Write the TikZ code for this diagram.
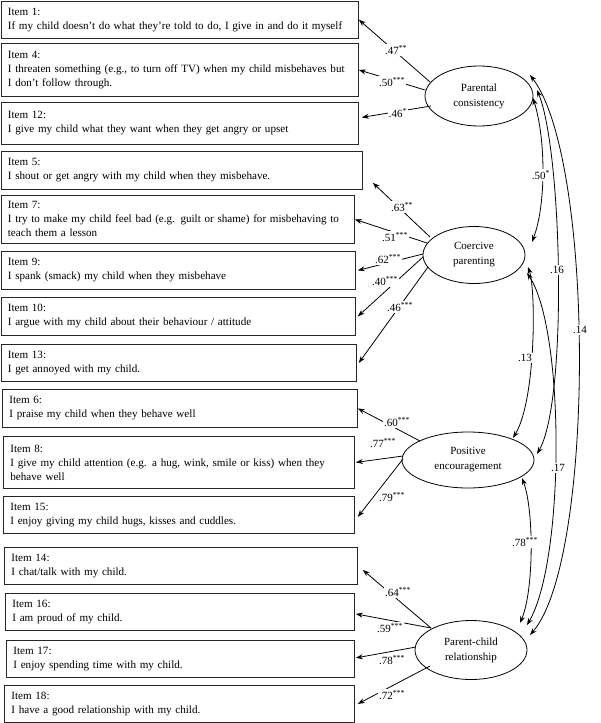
\documentclass[tikz,border=0pt]{standalone}
\usepackage{fontspec}
\setmainfont{Liberation Serif}
\usetikzlibrary{shapes.geometric,arrows.meta,calc}
\begin{document}
\begin{tikzpicture}[x=1pt,y=-1pt,
  box/.style={draw=black!85, line width=0.8pt, rectangle, anchor=north west, align=left,
    inner xsep=7pt, inner ysep=0pt, font=\fontsize{11.1}{14}\selectfont},
  lat/.style={draw, ellipse, line width=0.8pt, inner sep=0pt, align=center,
    font=\fontsize{11}{15}\selectfont},
  load/.style={line width=0.8pt, -{Stealth[length=7pt,width=5pt]}},
  cov/.style={line width=0.8pt, {Stealth[length=7pt,width=5pt]}-{Stealth[length=7pt,width=5pt]}},
  lab/.style={fill=white, inner sep=1pt, font=\fontsize{11}{12}\selectfont}]
\useasboundingbox (0,0) rectangle (600,723);

% item boxes
\node[box, minimum width=357.5pt, minimum height=37.5pt, text width=343.5pt] (i1) at (0.5,0.5)
  {Item 1:\\If my child doesn’t do what they’re told to do, I give in and do it myself};
\node[box, minimum width=357.5pt, minimum height=53pt, text width=343.5pt] (i4) at (0.5,43)
  {Item 4:\\I threaten something (e.g., to turn off TV) when my child misbehaves but\\I don’t follow through.};
\node[box, minimum width=357.5pt, minimum height=42pt, text width=343.5pt] (i12) at (0.5,102)
  {Item 12:\\I give my child what they want when they get angry or upset};
\node[box, minimum width=361.5pt, minimum height=38pt, text width=347.5pt] (i5) at (0.5,151)
  {Item 5:\\I shout or get angry with my child when they misbehave.};
\node[box, minimum width=353.5pt, minimum height=48pt, text width=339.5pt] (i7) at (0.5,195)
  {Item 7:\\I try to make my child feel bad (e.g. guilt or shame) for misbehaving to\\teach them a lesson};
\node[box, minimum width=354.5pt, minimum height=38pt, text width=340.5pt] (i9) at (0.5,251)
  {Item 9:\\I spank (smack) my child when they misbehave};
\node[box, minimum width=354.5pt, minimum height=38pt, text width=340.5pt] (i10) at (0.5,297)
  {Item 10:\\I argue with my child about their behaviour / attitude};
\node[box, minimum width=355.5pt, minimum height=37pt, text width=341.5pt] (i13) at (0.5,344)
  {Item 13:\\I get annoyed with my child.};
\node[box, minimum width=355pt, minimum height=38pt, text width=341pt] (i6) at (2,389)
  {Item 6:\\I praise my child when they behave well};
\node[box, minimum width=351pt, minimum height=52pt, text width=337pt] (i8) at (3,436)
  {Item 8:\\I give my child attention (e.g. a hug, wink, smile or kiss) when they\\behave well};
\node[box, minimum width=351pt, minimum height=37pt, text width=337pt] (i15) at (3,496)
  {Item 15:\\I enjoy giving my child hugs, kisses and cuddles.};
\node[box, minimum width=353pt, minimum height=37pt, text width=339pt] (i14) at (4,547)
  {Item 14:\\I chat/talk with my child.};
\node[box, minimum width=349pt, minimum height=37pt, text width=335pt] (i16) at (5,593)
  {Item 16:\\I am proud of my child.};
\node[box, minimum width=348pt, minimum height=37pt, text width=334pt] (i17) at (6,640)
  {Item 17:\\I enjoy spending time with my child.};
\node[box, minimum width=350pt, minimum height=37pt, text width=336pt] (i18) at (4,685)
  {Item 18:\\I have a good relationship with my child.};

% latent variables
\node[lat, minimum width=108pt, minimum height=60pt] (pc) at (479,96) {Parental\\consistency};
\node[lat, minimum width=102pt, minimum height=57pt] (cp) at (474,255) {Coercive\\parenting};
\node[lat, minimum width=132pt, minimum height=56pt] (ce) at (468,460) {Positive\\encouragement};
\node[lat, minimum width=112pt, minimum height=59pt] (pr) at (471,650) {Parent-child\\relationship};

% loadings
\draw[load] ($(pc.center)+(-49,-14)$) -- (i1.east);
\draw[load] ($(pc.center)+(-54,-6)$) -- (i4.east);
\draw[load] ($(pc.center)+(-48,10)$) -- ($(i12.east)+(3,-6)$);
\draw[load] ($(cp.center)+(-44,-18)$) -- ($(i5.south east)+(10,-7)$);
\draw[load] ($(cp.center)+(-47,-12)$) -- (i7.east);
\draw[load] ($(cp.center)+(-51,-1)$) -- ($(i9.east)+(2,0)$);
\draw[load] ($(cp.center)+(-51,2)$) -- ($(i10.east)+(2,0)$);
\draw[load] ($(cp.center)+(-46,12)$) -- ($(i13.east)+(2,0)$);
\draw[load] ($(ce.center)+(-48,-19)$) -- (i6.east);
\draw[load] ($(ce.center)+(-65,-4)$) -- ($(i8.east)+(1,0)$);
\draw[load] ($(ce.center)+(-65,-1)$) -- ($(i15.east)+(3,2)$);
\draw[load] ($(pr.center)+(-40,-22)$) -- ($(i14.east)+(5,4)$);
\draw[load] ($(pr.center)+(-40,-22)$) -- ($(i16.east)+(1,2)$);
\draw[load] ($(pr.center)+(-55,-3)$) -- ($(i17.east)+(1,-1)$);
\draw[load] ($(pr.center)+(-41,16)$) -- ($(i18.east)+(3,0)$);

% covariances
\draw[cov] ($(pc.center)+(54,2)$) .. controls (546,140) and (546,205) .. ($(cp.center)+(58,-13)$);
\draw[cov] ($(pc.center)+(58,-6)$) .. controls (562,150) and (568,400) .. ($(ce.center)+(69,-6)$);
\draw[cov] ($(pc.center)+(51,-21)$) .. controls (595,160) and (595,560) .. ($(pr.center)+(59,-15)$);
\draw[cov] ($(cp.center)+(54,12)$) .. controls (536,290) and (536,400) .. ($(ce.center)+(45,-22)$);
\draw[cov] ($(cp.center)+(53,18)$) .. controls (565,330) and (565,560) .. ($(pr.center)+(56,-25)$);
\draw[cov] ($(ce.center)+(54,18)$) .. controls (534,510) and (534,590) .. ($(pr.center)+(49,-27)$);

% loading labels
\node[lab] (l1) at (396,50) {.47\textsuperscript{**}};
\node[lab] (l4) at (392,82) {.50\textsuperscript{***}};
\node[lab] (l12) at (398,113) {.46\textsuperscript{*}};
\node[lab] (l5) at (402,207) {.63\textsuperscript{**}};
\node[lab] (l7) at (395,237) {.51\textsuperscript{***}};
\node[lab] (l9) at (388,259) {.62\textsuperscript{***}};
\node[lab] (l10) at (385,281) {.40\textsuperscript{***}};
\node[lab] (l13) at (400,307) {.46\textsuperscript{***}};
\node[lab] (l6) at (397,422) {.60\textsuperscript{***}};
\node[lab] (l8) at (383,443) {.77\textsuperscript{***}};
\node[lab] (l15) at (392,497) {.79\textsuperscript{***}};
\node[lab] (l14) at (398,592) {.64\textsuperscript{***}};
\node[lab] (l16) at (390,628) {.59\textsuperscript{***}};
\node[lab] (l17) at (392,660) {.78\textsuperscript{***}};
\node[lab] (l18) at (392,695) {.72\textsuperscript{***}};

% covariance labels
\node[lab] (c1) at (541,175) {.50\textsuperscript{*}};
\node[lab] (c2) at (557,270) {.16};
\node[lab] (c3) at (580,330) {.14};
\node[lab] (c4) at (525,358) {.13};
\node[lab] (c5) at (558,468) {.17};
\node[lab] (c6) at (525,542) {.78\textsuperscript{***}};
\end{tikzpicture}
\end{document}
